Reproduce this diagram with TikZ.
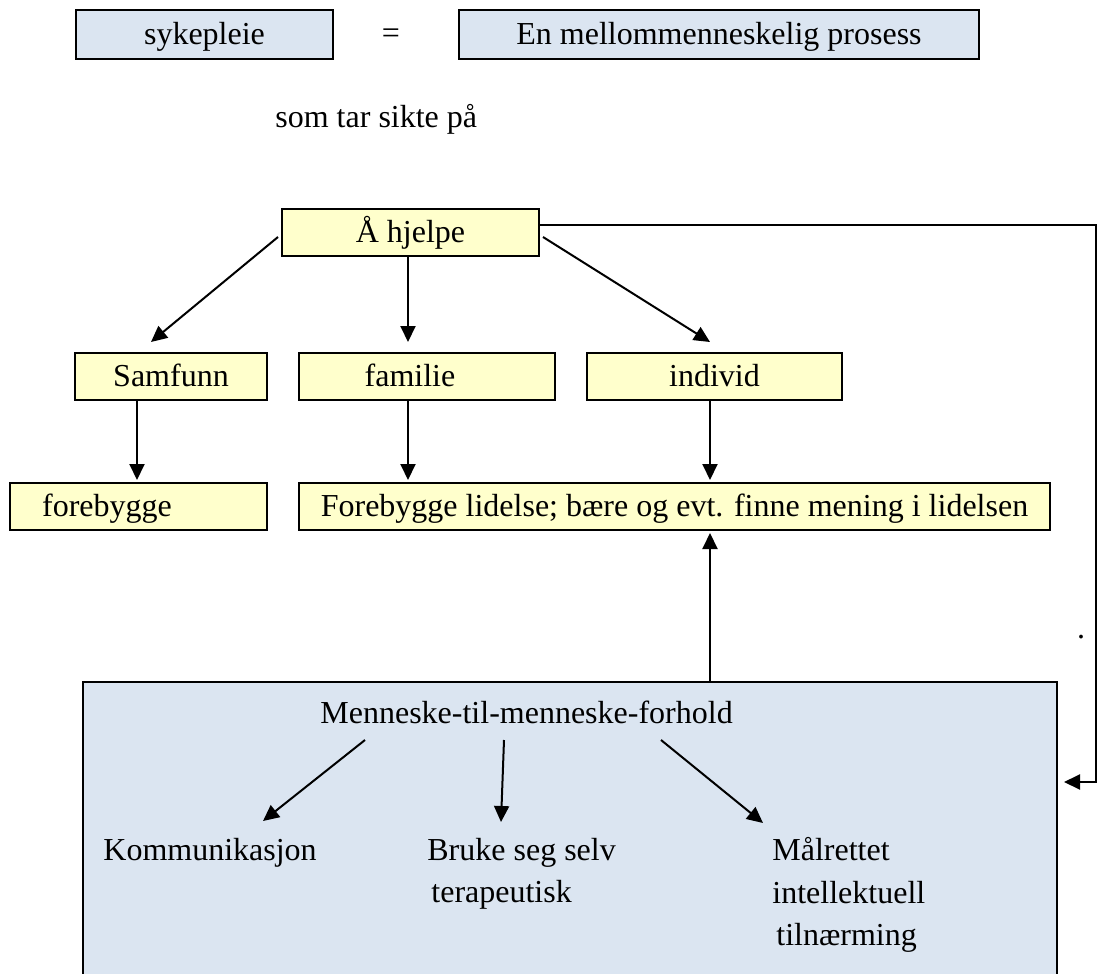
\documentclass[tikz,border=0pt]{standalone}
\usepackage{fontspec}
\setmainfont{Liberation Serif}
\usetikzlibrary{arrows.meta,calc}
\definecolor{boxblue}{HTML}{DBE5F1}
\definecolor{boxyellow}{HTML}{FFFFCC}
\begin{document}
\begin{tikzpicture}[x=0.5pt,y=-0.5pt,
  font=\fontsize{16}{19}\selectfont,
  boxbase/.style={draw=black,line width=1pt,inner sep=0pt,text height=12.5pt,text depth=2.5pt},
  bluebox/.style={boxbase,fill=boxblue},
  yellowbox/.style={boxbase,fill=boxyellow},
  lbl/.style={inner sep=0pt,anchor=base west},
  arr/.style={line width=1pt,-{Triangle[length=8pt,width=7.5pt]}},
]
\useasboundingbox (0,0) rectangle (1098,974);

% top row
\node[bluebox,minimum width=128.5pt,minimum height=24.5pt] (syk) at (204.5,34.5) {sykepleie};
\node[bluebox,minimum width=260pt,minimum height=24.5pt] (proc) at (719,34.5) {En mellommenneskelig prosess};
\node[inner sep=0pt,anchor=base] (eq) at (391,44) {=};
\node[lbl] (som) at (275,127) {som tar sikte på};

% Å hjelpe
\node[yellowbox,minimum width=128.5pt,minimum height=23.5pt] (hjelpe) at (410.5,232.5) {Å hjelpe};

% second row
\node[yellowbox,minimum width=96pt,minimum height=23.5pt] (samfunn) at (171,376.5) {Samfunn};
\node[yellowbox,minimum width=128pt,minimum height=23.5pt] (familie) at (427,376.5) {};
\node[inner sep=0pt,anchor=base] (familietxt) at (410,386.5) {familie};
\node[yellowbox,minimum width=127.5pt,minimum height=23.5pt] (individ) at (714.5,376.5) {individ};

% third row
\node[yellowbox,minimum width=128.5pt,minimum height=23.5pt] (forebygge) at (138.5,506.5) {};
\node[inner sep=0pt,anchor=base] (forebyggetxt) at (107,516.5) {forebygge};
\node[yellowbox,minimum width=375.5pt,minimum height=23.5pt] (flid) at (674.5,506.5) {Forebygge lidelse; bære og evt. finne mening i lidelsen};

% big box
\node[bluebox,minimum width=487pt,minimum height=147pt] (mm) at (570,829) {};
\node[lbl] (mmtitle) at (320,723) {Menneske-til-menneske-forhold};
\node[lbl] (komm) at (103,860) {Kommunikasjon};
\node[lbl] (bruke) at (427,860) {Bruke seg selv};
\node[lbl] (terap) at (431,902) {terapeutisk};
\node[lbl] (malr) at (772,860) {Målrettet};
\node[lbl] (intel) at (772,903) {intellektuell};
\node[lbl] (tiln) at (776,945) {tilnærming};

\node[inner sep=0pt,anchor=base] (dot) at (1081,638) {.};

% arrows from Å hjelpe
\draw[arr] ($(hjelpe.west)+(-3,4.5)$) -- ($(samfunn.north)+(-20,-10)$);
\draw[arr] ($(hjelpe.south)+(-2.5,0)$) -- ($(familie.north)+(-19,-10)$);
\draw[arr] ($(hjelpe.east)+(3,4.5)$) -- ($(individ.north)+(-4.5,-10)$);

% arrows down
\draw[arr] ($(samfunn.south)+(-34,0)$) -- ($(forebygge.north)+(-1.5,-2)$);
\draw[arr] ($(familie.south)+(-19,0)$) -- ($(flid.north)+(-266.5,-2)$);
\draw[arr] ($(individ.south)+(-4.5,0)$) -- ($(flid.north)+(35.5,-2)$);

% arrow up
\draw[arr] ($(mm.north)+(140,0)$) -- ($(flid.south)+(35.5,2)$);

% right connector
\coordinate (rc) at (1096,225);
\draw[arr] (hjelpe.east |- rc) -- (rc) |- ($(mm.east)+(6,-47)$);

% arrows inside big box
\coordinate (mmsrc) at ($(mmtitle.base west)+(0,17)$);
\draw[arr] ($(mmsrc)+(45,0)$) -- ($(komm.base west)+(160,-39)$);
\draw[arr] ($(mmsrc)+(184,0)$) -- ($(bruke.base west)+(74,-38)$);
\draw[arr] ($(mmsrc)+(341,0)$) -- ($(malr.base west)+(-9,-37)$);
\end{tikzpicture}
\end{document}
